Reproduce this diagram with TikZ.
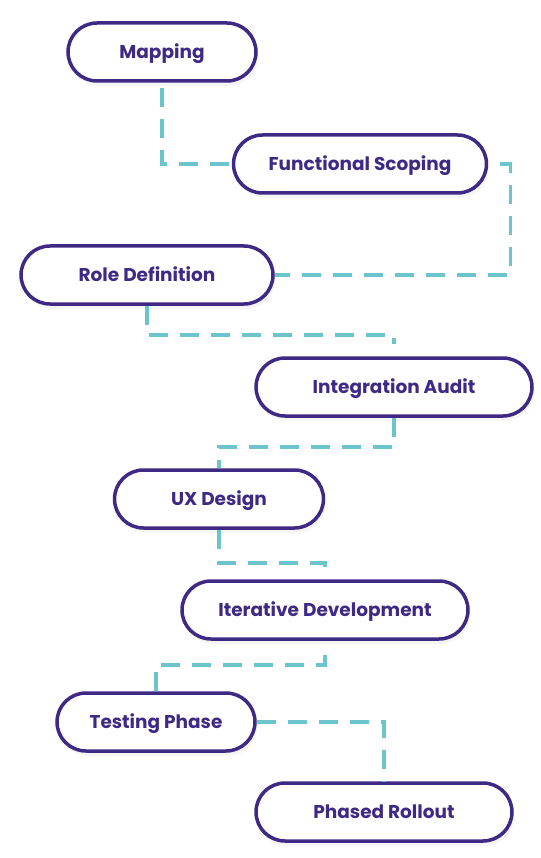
\documentclass[tikz,border=0pt]{standalone}
\usepackage{fontspec}
\setmainfont{Poppins}
\usetikzlibrary{shadows}

\definecolor{stepcol}{HTML}{3E2A84}
\definecolor{linkcol}{HTML}{6CC5CC}

\tikzset{
  phase/.style={draw=stepcol, line width=3.5pt, fill=white, rounded corners=29pt,
    minimum height=58pt, text=stepcol, font=\fontsize{18.5}{20}\selectfont\bfseries,
    text height=13pt, text depth=0pt,
    drop shadow={opacity=0.08, shadow xshift=2pt, shadow yshift=-5pt}},
  link/.style={draw=linkcol, line width=3.5pt, dash pattern=on 19pt off 12pt}
}

\begin{document}
\begin{tikzpicture}[x=1pt, y=-1pt]

        \useasboundingbox (0,0) rectangle (540,858);

        \node[phase, minimum width=188pt] (map) at (162,52) {Mapping};
        \node[phase, minimum width=253pt] (fs) at (360,164) {Functional Scoping};
        \node[phase, minimum width=252pt] (rd) at (147,275) {Role Definition};
        \node[phase, minimum width=276pt] (ia) at (394,387) {Integration Audit};
        \node[phase, minimum width=209pt] (ux) at (219,499) {UX Design};
        \node[phase, minimum width=286pt] (id) at (325,610) {Iterative Development};
        \node[phase, minimum width=198pt] (tp) at (156,722) {Testing Phase};
        \node[phase, minimum width=256pt] (pr) at (384,812) {Phased Rollout};

        \draw[link] ([yshift=-5pt]map.south) |- (fs.west);
        \draw[link] ([xshift=12pt]fs.east) -- ++(10,0) |- (rd.east);
        \draw[link] (rd.south) -- ++(0,29) -| ([yshift=12pt]ia.north);
        \draw[link] (ia.south) -- ++(0,29) -| (ux.north);
        \draw[link] (ux.south) -- ++(0,33) -| ([yshift=6pt]id.north);
        \draw[link] ([yshift=-14pt]id.south) -- ++(0,10) -| (tp.north);
        \draw[link] (tp.east) -| (pr.north);

\end{tikzpicture}
\end{document}
